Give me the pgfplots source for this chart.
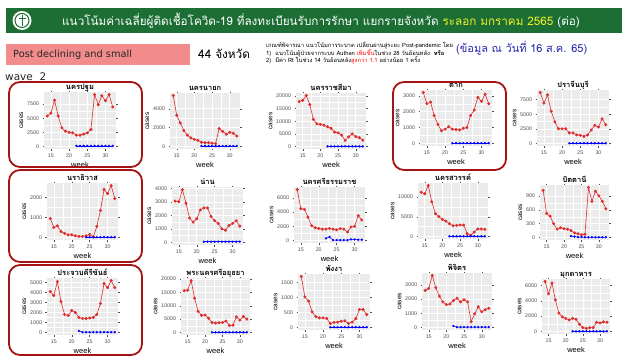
\documentclass[border=0pt]{standalone}
\usepackage{fontspec}
\setmainfont{Liberation Sans}
\newfontfamily\thai[Script=Thai]{Loma}
\newfontfamily\dejavu{DejaVu Sans}
\usepackage{pgfplots}
\pgfplotsset{compat=1.18}
\definecolor{hdrgreen}{RGB}{28,110,52}
\definecolor{ggbg}{RGB}{235,235,235}
\definecolor{ggred}{RGB}{222,45,45}
\definecolor{boxred}{RGB}{165,20,20}
\definecolor{pinkbox}{RGB}{242,140,140}
\definecolor{ggtick}{RGB}{77,77,77}
\definecolor{hdryellow}{RGB}{240,240,40}
\definecolor{infoblue}{RGB}{40,40,170}
\pgfplotsset{gg/.style={
 scale only axis, width=70pt, height=56pt,
 xmin=13.1, xmax=32.9, xtick={15,20,25,30}, minor x tick num=1, minor y tick num=1,
 axis background/.style={fill=ggbg},
 grid=both, major grid style={white, line width=0.6pt}, minor grid style={white, line width=0.3pt},
 axis line style={draw=none},
 tick align=outside, major tick length=1.5pt, minor tick length=0pt,
 tick style={ggtick, line width=0.4pt},
 tick label style={font=\fontsize{5.3}{6}\selectfont, text=ggtick},
 /pgf/number format/assume math mode=true, /pgf/number format/1000 sep={},
 scaled y ticks=false,
 xlabel={week}, ylabel={cases},
 xlabel style={font=\fontsize{7.5}{8}\selectfont, yshift=3pt},
 ylabel style={font=\fontsize{6.5}{7}\selectfont, yshift=-3pt},
 every axis title shift=0pt,
 title style={font=\thai\bfseries\fontsize{7.5}{8}\selectfont, at={(0.5,1)}, anchor=base, yshift=2.5pt},
 anchor=north west, clip=false,
},
redl/.style={ggred, line width=0.6pt, mark=*, mark size=1.2pt, mark options={solid}},
bluel/.style={blue, line width=0.5pt, mark=*, mark size=0.9pt}
}
\begin{document}
\begin{tikzpicture}
\path[use as bounding box] (0,0) rectangle (628pt,357pt);
\fill[white] (0,0) rectangle (628pt,357pt);
% header
\fill[hdrgreen] (6pt,349pt) rectangle (622pt,324pt);
\fill[white] (22pt,336.5pt) circle (9.5pt);
\draw[hdrgreen, line width=1pt] (22pt,336.5pt) circle (7pt);
\draw[hdrgreen, line width=0.8pt] (22pt,331pt) -- (22pt,342pt) (18.5pt,339pt) -- (25.5pt,339pt);
\node[anchor=west, text=white, font=\thai\fontsize{11.7}{13}\selectfont, inner sep=0pt] at (62pt,336.5pt)
 {แนวโน้มค่าเฉลี่ยผู้ติดเชื้อโควิด-19 ที่ลงทะเบียนรับการรักษา แยกรายจังหวัด \textcolor{hdryellow}{ระลอก มกราคม 2565} (ต่อ)};
% sub header
\fill[pinkbox] (6pt,313pt) rectangle (190pt,292pt);
\node[anchor=west, font=\dejavu\fontsize{9.8}{11}\selectfont, text=black!85, inner sep=0pt] at (13pt,302.5pt) {Post declining and small};
\node[anchor=west, font=\thai\fontsize{11.8}{12}\selectfont, inner sep=0pt] at (198pt,303pt) {44 จังหวัด};
\node[anchor=west, font=\thai\fontsize{5.8}{6}\selectfont, inner sep=0pt] at (266pt,311.5pt) {เกณฑ์พิจารณา แนวโน้มการระบาด เปลี่ยนผ่านสู่ระยะ Post-pandemic โดย};
\node[anchor=west, font=\thai\fontsize{5.8}{6}\selectfont, inner sep=0pt] at (266pt,304pt) {1)\ \ แนวโน้มผู้ป่วยจากระบบ Authen \textcolor{red}{เพิ่มขึ้น}ในช่วง 28 วันย้อนหลัง\ \ \textbf{หรือ}};
\node[anchor=west, font=\thai\fontsize{5.8}{6}\selectfont, inner sep=0pt] at (266pt,297pt) {2)\ \ มีค่า Rt ในช่วง 14 วันย้อนหลัง\textcolor{red}{สูงกว่า 1.1} อย่างน้อย 1 ครั้ง};
\node[anchor=west, font=\thai\fontsize{11}{12}\selectfont, text=infoblue, inner sep=0pt] at (456pt,309pt) {(ข้อมูล ณ วันที่ 16 ส.ค. 65)};
\node[anchor=west, font=\dejavu\fontsize{10.5}{11}\selectfont, text=black!85, inner sep=0pt] at (5pt,280pt) {wave\ \ 2};
% P1
\begin{axis}[gg, at={(44pt,265pt)}, width=72pt, height=57pt, title={นครปฐม}, ymin=-460, ymax=9660, ytick={0,2500,5000,7500}]
\addplot[redl] coordinates {(14,5400)(15,5900)(16,8200)(17,5400)(18,3300)(19,2700)(20,2500)(21,2400)(22,2000)(23,2000)(24,2200)(25,2400)(26,3000)(27,9200)(28,7400)(29,9000)(30,8100)(31,9200)(32,7000)};
\addplot[bluel] coordinates {(22,100)(23,100)(24,100)(25,100)(26,100)(27,100)(28,100)(29,100)(30,100)(31,100)(32,100)};
\end{axis}
% P2
\begin{axis}[gg, at={(170pt,264pt)}, title={นครนายก}, ymin=-270, ymax=5670, ytick={0,2000,4000}]
\addplot[redl] coordinates {(14,5400)(15,3300)(16,2500)(17,1700)(18,1200)(19,900)(20,750)(21,650)(22,450)(23,400)(24,400)(25,350)(26,300)(27,1900)(28,1600)(29,1300)(30,1500)(31,1400)(32,1100)};
\addplot[bluel] coordinates {(22,50)(23,50)(24,50)(25,50)(26,50)(27,50)(28,50)(29,50)(30,50)(31,50)(32,50)};
\end{axis}
% P3
\begin{axis}[gg, at={(296pt,264pt)}, title={นครราชสีมา}, ymin=-1010, ymax=21210, ytick={0,5000,10000,15000,20000}]
\addplot[redl] coordinates {(14,17800)(15,18300)(16,20200)(17,16600)(18,10800)(19,9000)(20,8800)(21,8400)(22,7800)(23,7200)(24,5700)(25,5400)(26,4500)(27,2400)(28,3800)(29,5000)(30,3900)(31,3500)(32,2500)};
\addplot[bluel] coordinates {(22,50)(23,50)(24,50)(25,50)(26,50)(27,50)(28,50)(29,50)(30,50)(31,50)(32,50)};
\end{axis}
% P4
\begin{axis}[gg, at={(420pt,267pt)}, width=72pt, title={ตาก}, ymin=-160, ymax=3360, ytick={0,1000,2000,3000}]
\addplot[redl] coordinates {(14,3200)(15,2500)(16,2600)(17,1750)(18,1200)(19,800)(20,900)(21,1050)(22,900)(23,870)(24,850)(25,950)(26,1000)(27,1750)(28,2100)(29,2900)(30,2650)(31,3100)(32,2500)};
\addplot[bluel] coordinates {(22,20)(23,20)(24,20)(25,20)(26,20)(27,20)(28,20)(29,20)(30,20)(31,20)(32,20)};
\end{axis}
% P5
\begin{axis}[gg, at={(537pt,267pt)}, width=72pt, title={ปราจีนบุรี}, ymin=-435, ymax=9135, ytick={0,2500,5000,7500}]
\addplot[redl] coordinates {(14,8700)(15,6900)(16,8300)(17,5500)(18,3700)(19,2500)(20,2500)(21,2500)(22,1800)(23,1800)(24,1450)(25,1400)(26,1200)(27,1450)(28,2300)(29,3100)(30,2800)(31,4200)(32,3200)};
\addplot[bluel] coordinates {(22,50)(23,50)(24,50)(25,50)(26,50)(27,50)(28,50)(29,50)(30,50)(31,50)(32,50)};
\end{axis}
% P6
\begin{axis}[gg, at={(47pt,174pt)}, width=71pt, height=57pt, title={นราธิวาส}, ymin=-130, ymax=2730, ytick={0,1000,2000}]
\addplot[redl] coordinates {(14,950)(15,500)(16,580)(17,300)(18,200)(19,130)(20,130)(21,80)(22,50)(23,50)(24,80)(25,150)(26,30)(27,550)(28,1350)(29,2400)(30,2200)(31,2600)(32,1950)};
\addplot[bluel] coordinates {(24,10)(25,10)(26,10)(27,10)(28,10)(29,10)(30,10)(31,10)(32,10)};
\end{axis}
% P7
\begin{axis}[gg, at={(172pt,170pt)}, width=71pt, height=58pt, title={น่าน}, ymin=-195, ymax=4095, ytick={0,1000,2000,3000,4000}]
\addplot[redl] coordinates {(14,3050)(15,3000)(16,3900)(17,2900)(18,1800)(19,1500)(20,1750)(21,2400)(22,2550)(23,2550)(24,1900)(25,1600)(26,1400)(27,1000)(28,900)(29,1250)(30,1400)(31,1600)(32,1200)};
\addplot[bluel] coordinates {(22,50)(23,50)(24,50)(25,50)(26,50)(27,50)(28,50)(29,50)(30,50)(31,50)(32,50)};
\end{axis}
% P8
\begin{axis}[gg, at={(294pt,170pt)}, width=71pt, title={นครศรีธรรมราช}, ymin=-360, ymax=7560, ytick={0,2000,4000,6000}]
\addplot[redl] coordinates {(14,7200)(15,4500)(16,4400)(17,3300)(18,2100)(19,1800)(20,1700)(21,1600)(22,1600)(23,1700)(24,1600)(25,1500)(26,1700)(27,1600)(28,1200)(29,1900)(30,2000)(31,3500)(32,2900)};
\addplot[bluel] coordinates {(22,300)(23,500)(24,50)(25,50)(26,50)(27,50)(28,50)(29,150)(30,150)(31,100)(32,100)};
\end{axis}
% P9
\begin{axis}[gg, at={(418pt,174pt)}, title={นครสวรรค์}, ymin=-645, ymax=13545, ytick={0,5000,10000}]
\addplot[redl] coordinates {(14,11200)(15,10800)(16,12900)(17,8800)(18,5800)(19,5000)(20,4300)(21,3900)(22,3200)(23,2700)(24,2800)(25,2900)(26,2900)(27,700)(28,300)(29,1100)(30,1900)(31,1900)(32,1800)};
\addplot[bluel] coordinates {(22,50)(23,50)(24,50)(25,50)(26,50)(27,50)(28,50)(29,50)(30,50)(31,50)(32,50)};
\end{axis}
% P10
\begin{axis}[gg, at={(540pt,172pt)}, width=69pt, height=55pt, title={ปัตตานี}, ymin=-54, ymax=1134, ytick={0,300,600,900}]
\addplot[redl] coordinates {(14,1020)(15,520)(16,460)(17,300)(18,180)(19,210)(20,190)(21,180)(22,150)(23,100)(24,80)(25,60)(26,70)(27,1080)(28,780)(29,1000)(30,900)(31,780)(32,620)};
\addplot[bluel] coordinates {(22,30)(23,20)(24,10)(25,10)(26,5)(27,5)(28,5)(29,5)(30,5)(31,5)(32,5)};
\end{axis}
% P11
\begin{axis}[gg, at={(47pt,79pt)}, width=71pt, height=57pt, title={ประจวบคีรีขันธ์}, ymin=-260, ymax=5460, ytick={0,1000,2000,3000,4000,5000}]
\addplot[redl] coordinates {(14,4100)(15,3700)(16,5100)(17,3100)(18,1800)(19,1700)(20,2200)(21,2000)(22,1500)(23,1400)(24,1400)(25,1450)(26,1500)(27,1800)(28,2900)(29,4900)(30,4500)(31,5200)(32,4500)};
\addplot[bluel] coordinates {(22,150)(23,20)(24,20)(25,20)(26,20)(27,20)(28,20)(29,20)(30,20)(31,20)(32,20)};
\end{axis}
% P12
\begin{axis}[gg, at={(181pt,79pt)}, width=69pt, height=57pt, title={พระนครศรีอยุธยา}, ymin=-970, ymax=20370, ytick={0,5000,10000,15000,20000}]
\addplot[redl] coordinates {(14,15600)(15,15800)(16,19400)(17,12800)(18,7900)(19,6400)(20,6500)(21,5300)(22,3700)(23,3500)(24,3600)(25,3700)(26,4300)(27,2600)(28,2700)(29,5800)(30,4600)(31,6000)(32,5000)};
\addplot[bluel] coordinates {(22,50)(23,50)(24,50)(25,50)(26,50)(27,50)(28,50)(29,50)(30,50)(31,50)(32,50)};
\end{axis}
% P13
\begin{axis}[gg, at={(298pt,83pt)}, width=72pt, height=56pt, title={พังงา}, ymin=-85, ymax=1785, ytick={0,500,1000,1500}]
\addplot[redl] coordinates {(14,1700)(15,1020)(16,880)(17,520)(18,360)(19,320)(20,320)(21,300)(22,130)(23,170)(24,180)(25,210)(26,220)(27,130)(28,180)(29,290)(30,600)(31,600)(32,430)};
\addplot[bluel] coordinates {(22,10)(23,10)(24,10)(25,10)(26,10)(27,10)(28,10)(29,10)(30,10)(31,10)(32,10)};
\end{axis}
% P14
\begin{axis}[gg, at={(422pt,84pt)}, width=70pt, height=57pt, title={พิจิตร}, ymin=-183, ymax=3833, ytick={0,1000,2000,3000}]
\addplot[redl] coordinates {(14,2600)(15,2750)(16,3650)(17,2800)(18,2200)(19,1800)(20,1600)(21,1650)(22,1900)(23,2050)(24,1800)(25,1950)(26,1800)(27,400)(28,950)(29,1450)(30,1100)(31,1250)(32,1350)};
\addplot[bluel] coordinates {(22,100)(23,20)(24,20)(25,20)(26,20)(27,20)(28,20)(29,20)(30,20)(31,20)(32,20)};
\end{axis}
% P15
\begin{axis}[gg, at={(542pt,78pt)}, width=68pt, height=55pt, title={มุกดาหาร}, ymin=-325, ymax=6825, ytick={0,2000,4000,6000}]
\addplot[redl] coordinates {(14,6500)(15,4900)(16,6300)(17,4100)(18,2400)(19,1900)(20,1700)(21,1500)(22,1700)(23,1600)(24,950)(25,500)(26,400)(27,500)(28,500)(29,1200)(30,1100)(31,1250)(32,1200)};
\addplot[bluel] coordinates {(22,30)(23,30)(24,30)(25,30)(26,30)(27,30)(28,30)(29,30)(30,30)(31,30)(32,30)};
\end{axis}
% highlight boxes
\draw[boxred, line width=1.8pt, rounded corners=11pt] (9pt,275pt) rectangle (142pt,190pt);
\draw[boxred, line width=1.8pt, rounded corners=11pt] (393pt,275pt) rectangle (506pt,187pt);
\draw[boxred, line width=1.8pt, rounded corners=11pt] (9pt,187pt) rectangle (142pt,95pt);
\draw[boxred, line width=1.8pt, rounded corners=11pt] (9pt,92pt) rectangle (142pt,2pt);
\end{tikzpicture}
\end{document}
